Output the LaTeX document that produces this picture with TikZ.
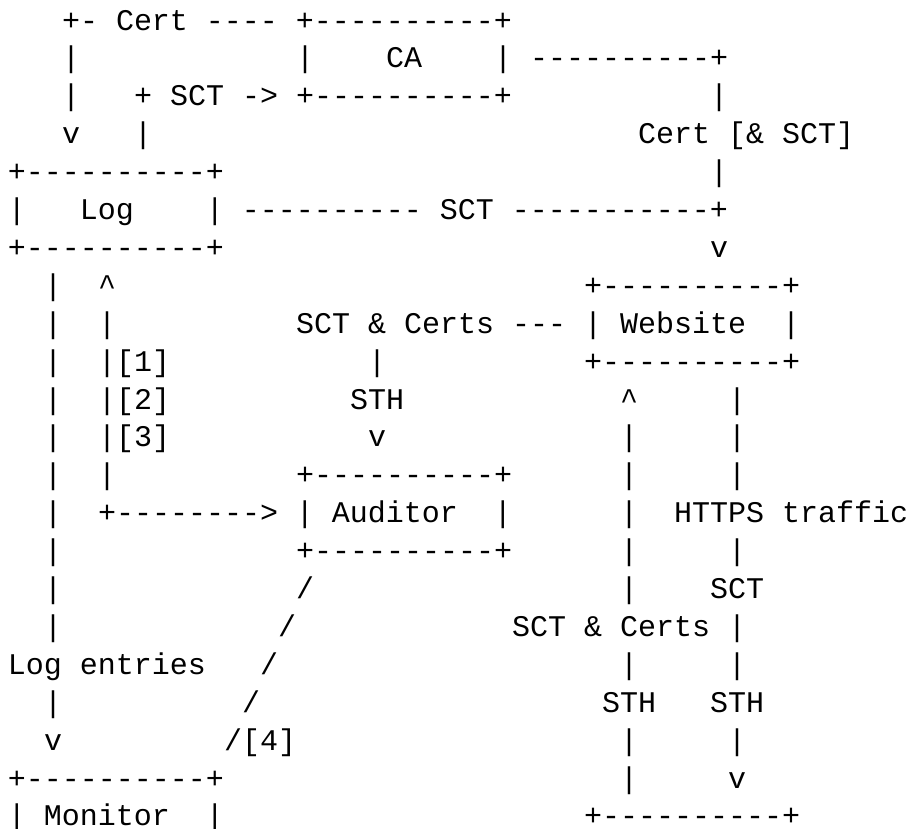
\documentclass[tikz,border=0pt]{standalone}
\usepackage{fontspec}
\setmonofont{Liberation Mono}
\tikzset{asc/.style={anchor=base west,inner sep=0pt,outer sep=0pt,font=\ttfamily\fontsize{30}{30}\selectfont,text=black}}
\newcommand\placetxt[4]{\node[asc] (#1) at ({8+18*#2},{-30-37.9*#3}) {#4};}
\begin{document}
\begin{tikzpicture}[x=1pt,y=1pt]
\fill[white] (0,0) rectangle (911,-828);
\path[use as bounding box] (0,0) rectangle (911,-828);
% row 0
\placetxt{a0}{3}{0}{+-~Cert~----~+----------+}
% row 1
\placetxt{a1}{3}{1}{|}
\placetxt{b1}{16}{1}{|~~~~CA~~~~|~----------+}
% row 2
\placetxt{a2}{3}{2}{|}
\placetxt{b2}{7}{2}{+~SCT~->~+----------+}
\placetxt{c2}{39}{2}{|}
% row 3
\placetxt{a3}{3}{3}{v}
\placetxt{b3}{7}{3}{|}
\placetxt{c3}{35}{3}{Cert~[\&~SCT]}
% row 4
\placetxt{a4}{0}{4}{+----------+}
\placetxt{b4}{39}{4}{|}
% row 5
\placetxt{a5}{0}{5}{|~~~Log~~~~|~----------~SCT~-----------+}
% row 6
\placetxt{a6}{0}{6}{+----------+}
\placetxt{b6}{39}{6}{v}
% row 7
\placetxt{a7}{2}{7}{|}
\placetxt{b7}{5}{7}{\textasciicircum}
\placetxt{c7}{32}{7}{+----------+}
% row 8
\placetxt{a8}{2}{8}{|}
\placetxt{b8}{5}{8}{|}
\placetxt{c8}{16}{8}{SCT~\&~Certs~---~|~Website~~|}
% row 9
\placetxt{a9}{2}{9}{|}
\placetxt{b9}{5}{9}{|[1]}
\placetxt{c9}{20}{9}{|}
\placetxt{d9}{32}{9}{+----------+}
% row 10
\placetxt{a10}{2}{10}{|}
\placetxt{b10}{5}{10}{|[2]}
\placetxt{c10}{19}{10}{STH}
\placetxt{d10}{34}{10}{\textasciicircum}
\placetxt{e10}{40}{10}{|}
% row 11
\placetxt{a11}{2}{11}{|}
\placetxt{b11}{5}{11}{|[3]}
\placetxt{c11}{20}{11}{v}
\placetxt{d11}{34}{11}{|}
\placetxt{e11}{40}{11}{|}
% row 12
\placetxt{a12}{2}{12}{|}
\placetxt{b12}{5}{12}{|}
\placetxt{c12}{16}{12}{+----------+}
\placetxt{d12}{34}{12}{|}
\placetxt{e12}{40}{12}{|}
% row 13
\placetxt{a13}{2}{13}{|}
\placetxt{b13}{5}{13}{+-------->~|~Auditor~~|}
\placetxt{d13}{34}{13}{|}
\placetxt{e13}{37}{13}{HTTPS~traffic}
% row 14
\placetxt{a14}{2}{14}{|}
\placetxt{c14}{16}{14}{+----------+}
\placetxt{d14}{34}{14}{|}
\placetxt{e14}{40}{14}{|}
% row 15
\placetxt{a15}{2}{15}{|}
\placetxt{c15}{16}{15}{/}
\placetxt{d15}{34}{15}{|}
\placetxt{e15}{39}{15}{SCT}
% row 16
\placetxt{a16}{2}{16}{|}
\placetxt{c16}{15}{16}{/}
\placetxt{d16}{28}{16}{SCT~\&~Certs~|}
% row 17
\placetxt{a17}{0}{17}{Log~entries}
\placetxt{c17}{14}{17}{/}
\placetxt{d17}{34}{17}{|}
\placetxt{e17}{40}{17}{|}
% row 18
\placetxt{a18}{2}{18}{|}
\placetxt{c18}{13}{18}{/}
\placetxt{d18}{33}{18}{STH}
\placetxt{e18}{39}{18}{STH}
% row 19
\placetxt{a19}{2}{19}{v}
\placetxt{c19}{12}{19}{/[4]}
\placetxt{d19}{34}{19}{|}
\placetxt{e19}{40}{19}{|}
% row 20
\placetxt{a20}{0}{20}{+----------+}
\placetxt{d20}{34}{20}{|}
\placetxt{e20}{40}{20}{v}
% row 21
\placetxt{a21}{0}{21}{|~Monitor~~|}
\placetxt{d21}{32}{21}{+----------+}
\end{tikzpicture}
\end{document}
